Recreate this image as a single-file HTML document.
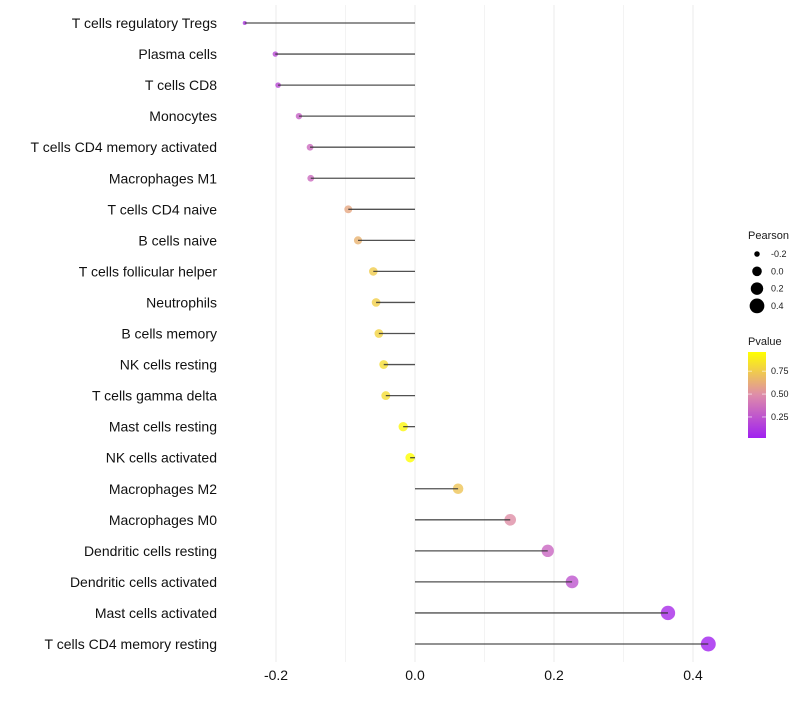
<!DOCTYPE html>
<html><head><meta charset="utf-8"><style>
body{margin:0;background:#fff;font-family:"Liberation Sans",sans-serif}
</style></head><body>
<svg id="chart" width="800" height="700" xmlns="http://www.w3.org/2000/svg" font-family="Liberation Sans, sans-serif"></svg>
<script>
const categories=["T cells regulatory  Tregs","Plasma cells","T cells CD8","Monocytes","T cells CD4 memory activated","Macrophages M1","T cells CD4 naive","B cells naive","T cells follicular helper","Neutrophils","B cells memory","NK cells resting","T cells gamma delta","Mast cells resting","NK cells activated","Macrophages M2","Macrophages M0","Dendritic cells resting","Dendritic cells activated","Mast cells activated","T cells CD4 memory resting"];
const pearson=[-0.245,-0.201,-0.197,-0.167,-0.151,-0.150,-0.096,-0.082,-0.060,-0.056,-0.052,-0.045,-0.042,-0.017,-0.007,0.062,0.137,0.191,0.226,0.364,0.422];
const pvalue=[0.12,0.2,0.2,0.3,0.35,0.35,0.6,0.65,0.75,0.76,0.78,0.82,0.82,0.93,0.96,0.72,0.5,0.33,0.25,0.07,0.03];
const xTicks=[-0.2,0,0.2,0.4];
const xTickLabels=["-0.2","0.0","0.2","0.4"];
const xMinor=[-0.1,0.1,0.3];
const sizeBreaks=[-0.2,0,0.2,0.4];
const sizeLabels=["-0.2","0.0","0.2","0.4"];
const pBreaks=[0.25,0.5,0.75];
const pLabels=["0.25","0.50","0.75"];

const svg=document.getElementById('chart');
const NS='http://www.w3.org/2000/svg';
function mk(t,a,p){const e=document.createElementNS(NS,t);for(const k in a)e.setAttribute(k,a[k]);(p||svg).appendChild(e);return e;}
const x=v=>415+v*695;
const y=i=>23+i*31.05;
const pMin=0.02,pMax=0.96;
const stops=[[0,[160,32,240]],[0.5,[222,140,170]],[1,[255,255,0]]];
function col(p){let t=Math.max(0,Math.min(1,(p-pMin)/(pMax-pMin)));let a=stops[0],b=stops[1];if(t>0.5){a=stops[1];b=stops[2];}const u=(t-a[0])/(b[0]-a[0]);const c=a[1].map((v,k)=>Math.round(v+(b[1][k]-v)*u));return `rgb(${c.join(',')})`;}
const sMin=Math.min(...pearson),sMax=Math.max(...pearson);
function rad(v){const t=Math.max(0,(v-sMin)/(sMax-sMin));return Math.sqrt(4+t*52);}

const grid=mk('g',{});
xMinor.forEach(v=>{mk('line',{x1:x(v),x2:x(v),y1:5,y2:662,stroke:'#f3f3f3','stroke-width':1},grid);});
xTicks.forEach(v=>{mk('line',{x1:x(v),x2:x(v),y1:5,y2:662,stroke:'#ebebeb','stroke-width':1},grid);});

categories.forEach((c,i)=>{
  const g=mk('g',{});
  
  
  const cir=mk('circle',{cx:x(pearson[i]),cy:y(i),r:rad(pearson[i]),fill:col(pvalue[i]),'fill-opacity':0.8},g);
  
  
  const ln=mk('line',{x1:x(0),x2:x(pearson[i]),y1:y(i),y2:y(i),stroke:'#333','stroke-opacity':0.85,'stroke-width':1.3},g);
  
  
  const t=mk('text',{x:217,y:y(i)+5,'text-anchor':'end','font-size':14,fill:'#111'},g);
  t.textContent=c;
  
  
});
xTicks.forEach((v,i)=>{const t=mk('text',{x:x(v),y:680,'text-anchor':'middle','font-size':14,fill:'#111'});t.textContent=xTickLabels[i];
  
  });

const lg=mk('g',{});
mk('text',{x:748,y:239,'font-size':11,fill:'#1a1a1a'},lg).textContent='Pearson';
sizeBreaks.forEach((v,i)=>{const yy=254+i*17.3;mk('circle',{cx:757,cy:yy,r:rad(v),fill:'#000'},lg);
  const t=mk('text',{x:771,y:yy+3,'font-size':9,fill:'#1a1a1a'},lg);t.textContent=sizeLabels[i];});

const pg=mk('g',{});
mk('text',{x:748,y:345,'font-size':11,fill:'#1a1a1a'},pg).textContent='Pvalue';
const defs=mk('defs',{});const gr=mk('linearGradient',{id:'pg',x1:0,y1:1,x2:0,y2:0},defs);
for(let k=0;k<=10;k++){const p=pMin+(pMax-pMin)*k/10;mk('stop',{offset:k/10,'stop-color':col(p)},gr);}
const barTop=352,barBot=438,py=p=>barBot-(p-pMin)/(pMax-pMin)*(barBot-barTop);
mk('rect',{x:748,y:barTop,width:18,height:barBot-barTop,fill:'url(#pg)'},pg);
pBreaks.forEach((p,i)=>{mk('line',{x1:748,x2:752,y1:py(p),y2:py(p),stroke:'#fff','stroke-opacity':0.6},pg);mk('line',{x1:762,x2:766,y1:py(p),y2:py(p),stroke:'#fff','stroke-opacity':0.6},pg);
  const t=mk('text',{x:771,y:py(p)+3,'font-size':9,fill:'#1a1a1a'},pg);t.textContent=pLabels[i];});
</script>
</body></html>
